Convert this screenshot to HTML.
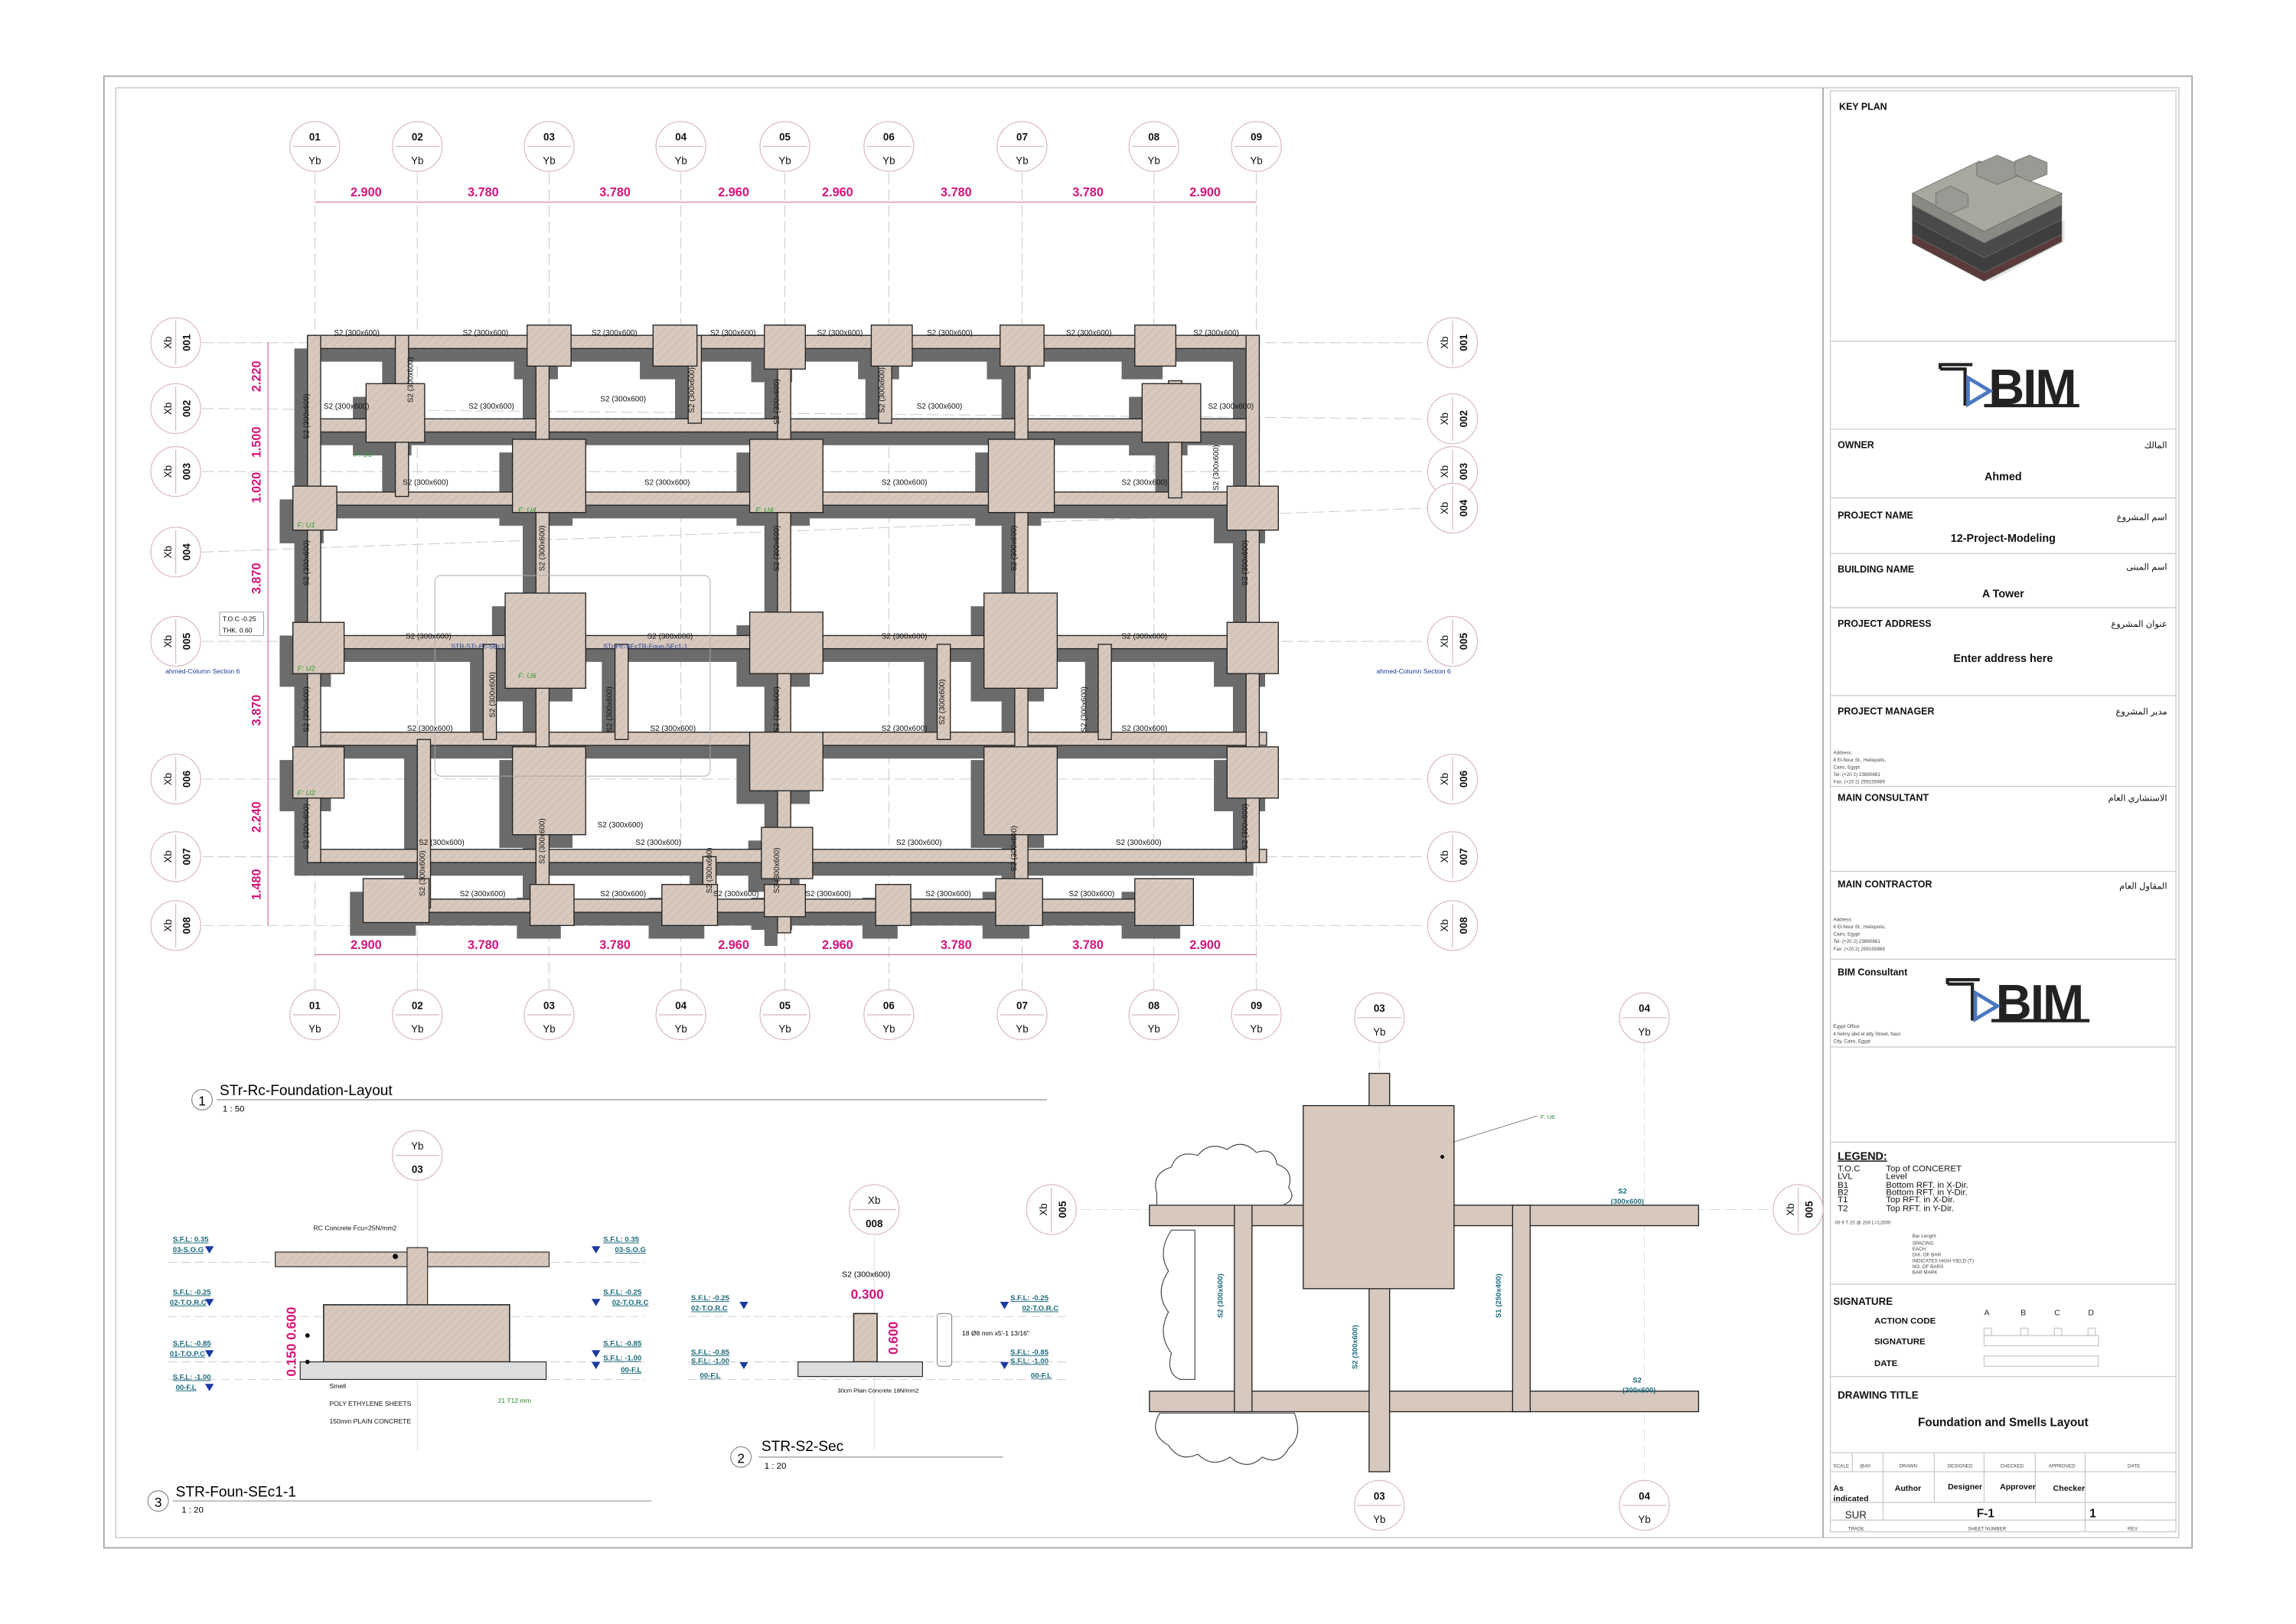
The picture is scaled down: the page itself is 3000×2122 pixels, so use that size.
<!DOCTYPE html>
<html><head><meta charset="utf-8"><style>
html,body{margin:0;padding:0;background:#fff;}
svg{display:block;}
text{font-family:"Liberation Sans","Noto Sans CJK SC",sans-serif;}
</style></head><body>
<svg width="3000" height="2122" viewBox="0 0 1568 1109" preserveAspectRatio="none" xmlns="http://www.w3.org/2000/svg">
<defs>
<pattern id="hat" width="4" height="4" patternUnits="userSpaceOnUse" patternTransform="rotate(45)"><rect width="4" height="4" fill="#d8c9be"/><line x1="0" y1="0" x2="0" y2="4" stroke="#c4b0a3" stroke-width="0.6"/></pattern>
<g id="shp">
<rect x="210" y="229" width="650" height="9"/><rect x="210" y="286" width="650" height="9"/>
<rect x="210" y="336" width="655" height="9"/><rect x="200" y="434" width="670" height="9"/>
<rect x="210" y="500" width="655" height="9"/><rect x="215" y="580" width="650" height="9"/>
<rect x="255" y="614" width="560" height="9"/>
<rect x="210" y="229" width="9" height="360"/><rect x="851" y="229" width="9" height="360"/>
<rect x="531" y="222" width="9" height="415"/><rect x="693" y="229" width="9" height="380"/>
<rect x="366" y="229" width="9" height="390"/><rect x="270" y="229" width="9" height="110"/>
<rect x="330" y="440" width="9" height="65"/><rect x="420" y="440" width="9" height="65"/>
<rect x="470" y="229" width="9" height="60"/><rect x="600" y="229" width="9" height="60"/>
<rect x="640" y="440" width="9" height="65"/><rect x="750" y="440" width="9" height="65"/>
<rect x="798" y="260" width="9" height="80"/><rect x="285" y="505" width="9" height="115"/>
<rect x="480" y="585" width="9" height="35"/>
<rect x="360" y="222" width="30" height="28"/><rect x="446" y="222" width="30" height="28"/><rect x="522" y="222" width="28" height="30"/><rect x="595" y="222" width="28" height="28"/><rect x="683" y="222" width="30" height="28"/><rect x="775" y="222" width="28" height="28"/>
<rect x="250" y="262" width="40" height="40"/><rect x="780" y="262" width="40" height="40"/>
<rect x="350" y="300" width="50" height="50"/><rect x="512" y="300" width="50" height="50"/><rect x="675" y="300" width="45" height="50"/><rect x="838" y="332" width="35" height="30"/><rect x="200" y="332" width="30" height="30"/>
<rect x="200" y="425" width="35" height="35"/><rect x="345" y="405" width="55" height="65"/><rect x="512" y="418" width="50" height="42"/><rect x="672" y="405" width="50" height="65"/><rect x="838" y="425" width="35" height="35"/>
<rect x="200" y="510" width="35" height="35"/><rect x="350" y="510" width="50" height="60"/><rect x="512" y="500" width="50" height="40"/><rect x="672" y="510" width="50" height="60"/><rect x="838" y="510" width="35" height="35"/>
<rect x="520" y="565" width="35" height="35"/><rect x="248" y="600" width="45" height="30"/><rect x="362" y="604" width="30" height="28"/><rect x="452" y="604" width="38" height="28"/><rect x="522" y="604" width="28" height="22"/><rect x="598" y="604" width="24" height="28"/><rect x="680" y="600" width="32" height="32"/><rect x="775" y="600" width="40" height="32"/>
</g>
</defs>
<rect width="1568" height="1109" fill="#fff"/>
<rect x="71" y="52" width="1426" height="1005" fill="none" stroke="#999" stroke-width="0.8"/>
<rect x="79" y="60" width="1409" height="990" fill="none" stroke="#bbb" stroke-width="0.6"/>
<line x1="1245" y1="60" x2="1245" y2="1050" stroke="#999" stroke-width="0.8"/>
<g stroke="#c8c8c8" stroke-width="0.5" stroke-dasharray="8,3">
<line x1="215" y1="118" x2="215" y2="676"/><line x1="285" y1="118" x2="285" y2="676"/><line x1="375" y1="118" x2="375" y2="676"/><line x1="465" y1="118" x2="465" y2="676"/><line x1="536" y1="118" x2="536" y2="676"/><line x1="607" y1="118" x2="607" y2="676"/><line x1="698" y1="118" x2="698" y2="676"/><line x1="788" y1="118" x2="788" y2="676"/><line x1="858" y1="118" x2="858" y2="676"/>
<line x1="138" y1="234" x2="975" y2="234"/><line x1="138" y1="279" x2="975" y2="286"/><line x1="138" y1="322" x2="975" y2="322"/><line x1="138" y1="377" x2="975" y2="347"/><line x1="138" y1="438" x2="975" y2="438"/><line x1="138" y1="532" x2="975" y2="532"/><line x1="138" y1="585" x2="975" y2="585"/><line x1="138" y1="632" x2="975" y2="632"/>
</g>
<use href="#shp" transform="translate(-9,9)" fill="#6b6b6b"/>
<use href="#shp" fill="url(#hat)" stroke="#222" stroke-width="0.7"/>
<rect x="297" y="393" width="188" height="137" rx="4" fill="none" stroke="#aaa" stroke-width="0.5"/>
<g font-size="5.2" fill="#111">
<text x="228" y="229">S2 (300x600)</text><text x="316" y="229">S2 (300x600)</text><text x="404" y="229">S2 (300x600)</text><text x="485" y="229">S2 (300x600)</text><text x="558" y="229">S2 (300x600)</text><text x="633" y="229">S2 (300x600)</text><text x="728" y="229">S2 (300x600)</text><text x="815" y="229">S2 (300x600)</text>
<text x="221" y="279">S2 (300x600)</text><text x="320" y="279">S2 (300x600)</text><text x="410" y="274">S2 (300x600)</text><text x="626" y="279">S2 (300x600)</text><text x="825" y="279">S2 (300x600)</text>
<text x="275" y="331">S2 (300x600)</text><text x="440" y="331">S2 (300x600)</text><text x="602" y="331">S2 (300x600)</text><text x="766" y="331">S2 (300x600)</text>
<text x="277" y="436">S2 (300x600)</text><text x="442" y="436">S2 (300x600)</text><text x="602" y="436">S2 (300x600)</text><text x="766" y="436">S2 (300x600)</text>
<text x="278" y="499">S2 (300x600)</text><text x="444" y="499">S2 (300x600)</text><text x="602" y="499">S2 (300x600)</text><text x="766" y="499">S2 (300x600)</text>
<text x="408" y="565">S2 (300x600)</text>
<text x="286" y="577">S2 (300x600)</text><text x="434" y="577">S2 (300x600)</text><text x="612" y="577">S2 (300x600)</text><text x="762" y="577">S2 (300x600)</text>
<text x="314" y="612">S2 (300x600)</text><text x="410" y="612">S2 (300x600)</text><text x="487" y="612">S2 (300x600)</text><text x="550" y="612">S2 (300x600)</text><text x="632" y="612">S2 (300x600)</text><text x="730" y="612">S2 (300x600)</text>
<text transform="translate(211,300) rotate(-90)">S2 (300x600)</text><text transform="translate(211,400) rotate(-90)">S2 (300x600)</text><text transform="translate(211,500) rotate(-90)">S2 (300x600)</text><text transform="translate(211,580) rotate(-90)">S2 (300x600)</text>
<text transform="translate(372,390) rotate(-90)">S2 (300x600)</text><text transform="translate(532,390) rotate(-90)">S2 (300x600)</text><text transform="translate(694,390) rotate(-90)">S2 (300x600)</text><text transform="translate(852,400) rotate(-90)">S2 (300x600)</text>
<text transform="translate(532,290) rotate(-90)">S2 (300x600)</text><text transform="translate(282,275) rotate(-90)">S2 (300x600)</text><text transform="translate(474,282) rotate(-90)">S2 (300x600)</text><text transform="translate(604,282) rotate(-90)">S2 (300x600)</text><text transform="translate(832,335) rotate(-90)">S2 (300x600)</text>
<text transform="translate(532,500) rotate(-90)">S2 (300x600)</text><text transform="translate(372,590) rotate(-90)">S2 (300x600)</text><text transform="translate(532,610) rotate(-90)">S2 (300x600)</text><text transform="translate(694,595) rotate(-90)">S2 (300x600)</text><text transform="translate(852,580) rotate(-90)">S2 (300x600)</text>
<text transform="translate(338,490) rotate(-90)">S2 (300x600)</text><text transform="translate(418,500) rotate(-90)">S2 (300x600)</text><text transform="translate(645,495) rotate(-90)">S2 (300x600)</text><text transform="translate(742,500) rotate(-90)">S2 (300x600)</text><text transform="translate(290,612) rotate(-90)">S2 (300x600)</text><text transform="translate(486,610) rotate(-90)">S2 (300x600)</text>
</g>
<g font-size="5" fill="#2a9a2a" font-style="italic"><text x="203" y="360">F: U1</text><text x="354" y="350">F: U4</text><text x="516" y="350">F: U4</text><text x="203" y="458">F: U2</text><text x="354" y="463">F: U6</text><text x="203" y="543">F: U2</text><text x="242" y="312">F: U3</text></g>
<g font-size="4.5" fill="#1a3a9a"><text x="308" y="443">STR-STr-Pc-SEc1</text><text x="412" y="443">STr-Pc-SEcTR-Foun-SEc1-1</text><text x="113" y="460">ahmed-Column Section 6</text><text x="940" y="460">ahmed-Column Section 6</text></g>
<rect x="150" y="418" width="30" height="16" fill="#fff" stroke="#888" stroke-width="0.4"/><text x="152" y="424" font-size="4.5">T.O.C  -0.25</text><text x="152" y="432" font-size="4.5">THK.    0.60</text>
<g stroke="#d04a7a" stroke-width="0.5"><line x1="215" y1="138" x2="858" y2="138"/><line x1="215" y1="652" x2="858" y2="652"/><line x1="183" y1="234" x2="183" y2="632"/></g>
<g font-size="8.5" fill="#d4147a" font-weight="bold" text-anchor="middle">
<text x="250" y="134">2.900</text><text x="330" y="134">3.780</text><text x="420" y="134">3.780</text><text x="501" y="134">2.960</text><text x="572" y="134">2.960</text><text x="653" y="134">3.780</text><text x="743" y="134">3.780</text><text x="823" y="134">2.900</text>
<text x="250" y="648">2.900</text><text x="330" y="648">3.780</text><text x="420" y="648">3.780</text><text x="501" y="648">2.960</text><text x="572" y="648">2.960</text><text x="653" y="648">3.780</text><text x="743" y="648">3.780</text><text x="823" y="648">2.900</text>
<text transform="translate(178,257) rotate(-90)">2.220</text><text transform="translate(178,302) rotate(-90)">1.500</text><text transform="translate(178,333) rotate(-90)">1.020</text><text transform="translate(178,395) rotate(-90)">3.870</text><text transform="translate(178,485) rotate(-90)">3.870</text><text transform="translate(178,558) rotate(-90)">2.240</text><text transform="translate(178,604) rotate(-90)">1.480</text>
</g>
<g font-size="7" fill="#111" text-anchor="middle" stroke-width="0.6">
<circle cx="215" cy="100" r="17" fill="#fff" stroke="#d9b5c0"/><line x1="200" y1="100" x2="230" y2="100" stroke="#d9b5c0"/><text x="215" y="96" font-weight="bold">01</text><text x="215" y="112">Yb</text>
<circle cx="285" cy="100" r="17" fill="#fff" stroke="#d9b5c0"/><line x1="270" y1="100" x2="300" y2="100" stroke="#d9b5c0"/><text x="285" y="96" font-weight="bold">02</text><text x="285" y="112">Yb</text>
<circle cx="375" cy="100" r="17" fill="#fff" stroke="#d9b5c0"/><line x1="360" y1="100" x2="390" y2="100" stroke="#d9b5c0"/><text x="375" y="96" font-weight="bold">03</text><text x="375" y="112">Yb</text>
<circle cx="465" cy="100" r="17" fill="#fff" stroke="#d9b5c0"/><line x1="450" y1="100" x2="480" y2="100" stroke="#d9b5c0"/><text x="465" y="96" font-weight="bold">04</text><text x="465" y="112">Yb</text>
<circle cx="536" cy="100" r="17" fill="#fff" stroke="#d9b5c0"/><line x1="521" y1="100" x2="551" y2="100" stroke="#d9b5c0"/><text x="536" y="96" font-weight="bold">05</text><text x="536" y="112">Yb</text>
<circle cx="607" cy="100" r="17" fill="#fff" stroke="#d9b5c0"/><line x1="592" y1="100" x2="622" y2="100" stroke="#d9b5c0"/><text x="607" y="96" font-weight="bold">06</text><text x="607" y="112">Yb</text>
<circle cx="698" cy="100" r="17" fill="#fff" stroke="#d9b5c0"/><line x1="683" y1="100" x2="713" y2="100" stroke="#d9b5c0"/><text x="698" y="96" font-weight="bold">07</text><text x="698" y="112">Yb</text>
<circle cx="788" cy="100" r="17" fill="#fff" stroke="#d9b5c0"/><line x1="773" y1="100" x2="803" y2="100" stroke="#d9b5c0"/><text x="788" y="96" font-weight="bold">08</text><text x="788" y="112">Yb</text>
<circle cx="858" cy="100" r="17" fill="#fff" stroke="#d9b5c0"/><line x1="843" y1="100" x2="873" y2="100" stroke="#d9b5c0"/><text x="858" y="96" font-weight="bold">09</text><text x="858" y="112">Yb</text>
<circle cx="215" cy="693" r="17" fill="#fff" stroke="#d9b5c0"/><line x1="200" y1="693" x2="230" y2="693" stroke="#d9b5c0"/><text x="215" y="689" font-weight="bold">01</text><text x="215" y="705">Yb</text>
<circle cx="285" cy="693" r="17" fill="#fff" stroke="#d9b5c0"/><line x1="270" y1="693" x2="300" y2="693" stroke="#d9b5c0"/><text x="285" y="689" font-weight="bold">02</text><text x="285" y="705">Yb</text>
<circle cx="375" cy="693" r="17" fill="#fff" stroke="#d9b5c0"/><line x1="360" y1="693" x2="390" y2="693" stroke="#d9b5c0"/><text x="375" y="689" font-weight="bold">03</text><text x="375" y="705">Yb</text>
<circle cx="465" cy="693" r="17" fill="#fff" stroke="#d9b5c0"/><line x1="450" y1="693" x2="480" y2="693" stroke="#d9b5c0"/><text x="465" y="689" font-weight="bold">04</text><text x="465" y="705">Yb</text>
<circle cx="536" cy="693" r="17" fill="#fff" stroke="#d9b5c0"/><line x1="521" y1="693" x2="551" y2="693" stroke="#d9b5c0"/><text x="536" y="689" font-weight="bold">05</text><text x="536" y="705">Yb</text>
<circle cx="607" cy="693" r="17" fill="#fff" stroke="#d9b5c0"/><line x1="592" y1="693" x2="622" y2="693" stroke="#d9b5c0"/><text x="607" y="689" font-weight="bold">06</text><text x="607" y="705">Yb</text>
<circle cx="698" cy="693" r="17" fill="#fff" stroke="#d9b5c0"/><line x1="683" y1="693" x2="713" y2="693" stroke="#d9b5c0"/><text x="698" y="689" font-weight="bold">07</text><text x="698" y="705">Yb</text>
<circle cx="788" cy="693" r="17" fill="#fff" stroke="#d9b5c0"/><line x1="773" y1="693" x2="803" y2="693" stroke="#d9b5c0"/><text x="788" y="689" font-weight="bold">08</text><text x="788" y="705">Yb</text>
<circle cx="858" cy="693" r="17" fill="#fff" stroke="#d9b5c0"/><line x1="843" y1="693" x2="873" y2="693" stroke="#d9b5c0"/><text x="858" y="689" font-weight="bold">09</text><text x="858" y="705">Yb</text>
</g>
<g font-size="7" fill="#111" text-anchor="middle" stroke="#d9b5c0" stroke-width="0.6">
<g transform="translate(120,234)"><circle r="17" fill="#fff"/><line x1="0" y1="-15" x2="0" y2="15"/><text transform="translate(-5,0) rotate(-90)" y="2" stroke="none">Xb</text><text transform="translate(10,0) rotate(-90)" stroke="none" font-weight="bold">001</text></g>
<g transform="translate(120,279)"><circle r="17" fill="#fff"/><line x1="0" y1="-15" x2="0" y2="15"/><text transform="translate(-5,0) rotate(-90)" y="2" stroke="none">Xb</text><text transform="translate(10,0) rotate(-90)" stroke="none" font-weight="bold">002</text></g>
<g transform="translate(120,322)"><circle r="17" fill="#fff"/><line x1="0" y1="-15" x2="0" y2="15"/><text transform="translate(-5,0) rotate(-90)" y="2" stroke="none">Xb</text><text transform="translate(10,0) rotate(-90)" stroke="none" font-weight="bold">003</text></g>
<g transform="translate(120,377)"><circle r="17" fill="#fff"/><line x1="0" y1="-15" x2="0" y2="15"/><text transform="translate(-5,0) rotate(-90)" y="2" stroke="none">Xb</text><text transform="translate(10,0) rotate(-90)" stroke="none" font-weight="bold">004</text></g>
<g transform="translate(120,438)"><circle r="17" fill="#fff"/><line x1="0" y1="-15" x2="0" y2="15"/><text transform="translate(-5,0) rotate(-90)" y="2" stroke="none">Xb</text><text transform="translate(10,0) rotate(-90)" stroke="none" font-weight="bold">005</text></g>
<g transform="translate(120,532)"><circle r="17" fill="#fff"/><line x1="0" y1="-15" x2="0" y2="15"/><text transform="translate(-5,0) rotate(-90)" y="2" stroke="none">Xb</text><text transform="translate(10,0) rotate(-90)" stroke="none" font-weight="bold">006</text></g>
<g transform="translate(120,585)"><circle r="17" fill="#fff"/><line x1="0" y1="-15" x2="0" y2="15"/><text transform="translate(-5,0) rotate(-90)" y="2" stroke="none">Xb</text><text transform="translate(10,0) rotate(-90)" stroke="none" font-weight="bold">007</text></g>
<g transform="translate(120,632)"><circle r="17" fill="#fff"/><line x1="0" y1="-15" x2="0" y2="15"/><text transform="translate(-5,0) rotate(-90)" y="2" stroke="none">Xb</text><text transform="translate(10,0) rotate(-90)" stroke="none" font-weight="bold">008</text></g>
<g transform="translate(992,234)"><circle r="17" fill="#fff"/><line x1="0" y1="-15" x2="0" y2="15"/><text transform="translate(-5,0) rotate(-90)" y="2" stroke="none">Xb</text><text transform="translate(10,0) rotate(-90)" stroke="none" font-weight="bold">001</text></g>
<g transform="translate(992,286)"><circle r="17" fill="#fff"/><line x1="0" y1="-15" x2="0" y2="15"/><text transform="translate(-5,0) rotate(-90)" y="2" stroke="none">Xb</text><text transform="translate(10,0) rotate(-90)" stroke="none" font-weight="bold">002</text></g>
<g transform="translate(992,322)"><circle r="17" fill="#fff"/><line x1="0" y1="-15" x2="0" y2="15"/><text transform="translate(-5,0) rotate(-90)" y="2" stroke="none">Xb</text><text transform="translate(10,0) rotate(-90)" stroke="none" font-weight="bold">003</text></g>
<g transform="translate(992,347)"><circle r="17" fill="#fff"/><line x1="0" y1="-15" x2="0" y2="15"/><text transform="translate(-5,0) rotate(-90)" y="2" stroke="none">Xb</text><text transform="translate(10,0) rotate(-90)" stroke="none" font-weight="bold">004</text></g>
<g transform="translate(992,438)"><circle r="17" fill="#fff"/><line x1="0" y1="-15" x2="0" y2="15"/><text transform="translate(-5,0) rotate(-90)" y="2" stroke="none">Xb</text><text transform="translate(10,0) rotate(-90)" stroke="none" font-weight="bold">005</text></g>
<g transform="translate(992,532)"><circle r="17" fill="#fff"/><line x1="0" y1="-15" x2="0" y2="15"/><text transform="translate(-5,0) rotate(-90)" y="2" stroke="none">Xb</text><text transform="translate(10,0) rotate(-90)" stroke="none" font-weight="bold">006</text></g>
<g transform="translate(992,585)"><circle r="17" fill="#fff"/><line x1="0" y1="-15" x2="0" y2="15"/><text transform="translate(-5,0) rotate(-90)" y="2" stroke="none">Xb</text><text transform="translate(10,0) rotate(-90)" stroke="none" font-weight="bold">007</text></g>
<g transform="translate(992,632)"><circle r="17" fill="#fff"/><line x1="0" y1="-15" x2="0" y2="15"/><text transform="translate(-5,0) rotate(-90)" y="2" stroke="none">Xb</text><text transform="translate(10,0) rotate(-90)" stroke="none" font-weight="bold">008</text></g>
<g transform="translate(718,826)"><circle r="17" fill="#fff"/><line x1="0" y1="-15" x2="0" y2="15"/><text transform="translate(-5,0) rotate(-90)" y="2" stroke="none">Xb</text><text transform="translate(10,0) rotate(-90)" stroke="none" font-weight="bold">005</text></g>
<g transform="translate(1228,826)"><circle r="17" fill="#fff"/><line x1="0" y1="-15" x2="0" y2="15"/><text transform="translate(-5,0) rotate(-90)" y="2" stroke="none">Xb</text><text transform="translate(10,0) rotate(-90)" stroke="none" font-weight="bold">005</text></g>
<g transform="translate(285,789)"><circle r="17" fill="#fff"/><line x1="-15" y1="0" x2="15" y2="0"/><text y="-4" stroke="none">Yb</text><text y="12" stroke="none" font-weight="bold">03</text></g>
<g transform="translate(597,826)"><circle r="17" fill="#fff"/><line x1="-15" y1="0" x2="15" y2="0"/><text y="-4" stroke="none">Xb</text><text y="12" stroke="none" font-weight="bold">008</text></g>
<g transform="translate(942,695)"><circle r="17" fill="#fff"/><line x1="-15" y1="0" x2="15" y2="0"/><text y="-4" stroke="none" font-weight="bold">03</text><text y="12" stroke="none">Yb</text></g>
<g transform="translate(1123,695)"><circle r="17" fill="#fff"/><line x1="-15" y1="0" x2="15" y2="0"/><text y="-4" stroke="none" font-weight="bold">04</text><text y="12" stroke="none">Yb</text></g>
<g transform="translate(942,1028)"><circle r="17" fill="#fff"/><line x1="-15" y1="0" x2="15" y2="0"/><text y="-4" stroke="none" font-weight="bold">03</text><text y="12" stroke="none">Yb</text></g>
<g transform="translate(1123,1028)"><circle r="17" fill="#fff"/><line x1="-15" y1="0" x2="15" y2="0"/><text y="-4" stroke="none" font-weight="bold">04</text><text y="12" stroke="none">Yb</text></g>
</g>
<circle cx="138" cy="751" r="7" fill="#fff" stroke="#888" stroke-width="0.6"/><text x="138" y="755" font-size="9" text-anchor="middle">1</text>
<text x="150" y="748" font-size="10">STr-Rc-Foundation-Layout</text><line x1="148" y1="751" x2="715" y2="751" stroke="#bbb" stroke-width="1"/><text x="152" y="759" font-size="6">1 : 50</text>
<g stroke="#ccc" stroke-width="0.5" stroke-dasharray="6,3"><line x1="115" y1="862" x2="440" y2="862"/><line x1="115" y1="899" x2="440" y2="899"/><line x1="115" y1="930" x2="440" y2="930"/><line x1="115" y1="942" x2="440" y2="942"/></g>
<line x1="285" y1="800" x2="285" y2="990" stroke="#ddd" stroke-width="0.5"/>
<rect x="188" y="855" width="187" height="10" fill="url(#hat)" stroke="#222" stroke-width="0.6"/>
<rect x="278" y="852" width="14" height="47" fill="url(#hat)" stroke="#222" stroke-width="0.6"/>
<rect x="221" y="891" width="127" height="39" fill="url(#hat)" stroke="#222" stroke-width="0.8"/>
<rect x="205" y="930" width="168" height="12" fill="#ddd" stroke="#222" stroke-width="0.6"/>
<circle cx="270" cy="858" r="1.8" fill="#000"/><circle cx="210" cy="912" r="1.5" fill="#000"/><circle cx="210" cy="930" r="1.5" fill="#000"/>
<g font-size="9" fill="#d4147a" font-weight="bold"><text transform="translate(202,915) rotate(-90)">0.600</text><text transform="translate(202,940) rotate(-90)">0.150</text></g>
<g font-size="4.5" fill="#111"><text x="214" y="840">RC Concrete Fcu=25N/mm2</text><text x="225" y="948">Smell</text><text x="225" y="960">POLY ETHYLENE SHEETS</text><text x="225" y="972">150mm PLAIN CONCRETE</text><text x="340" y="958" fill="#2a8a2a">21 T12 mm</text></g>
<g font-size="5" fill="#1a6a7a" font-weight="bold" text-decoration="underline">
<text x="118" y="848">S.F.L:  0.35</text><text x="118" y="855">03-S.O.G</text><text x="118" y="884">S.F.L:  -0.25</text><text x="116" y="891">02-T.O.R.C</text><text x="118" y="919">S.F.L:  -0.85</text><text x="116" y="926">01-T.O.P.C</text><text x="118" y="942">S.F.L:  -1.00</text><text x="120" y="949">00-F.L</text>
<text x="412" y="848">S.F.L:  0.35</text><text x="420" y="855">03-S.O.G</text><text x="412" y="884">S.F.L:  -0.25</text><text x="418" y="891">02-T.O.R.C</text><text x="412" y="919">S.F.L:  -0.85</text><text x="412" y="929">S.F.L:  -1.00</text><text x="424" y="937">00-F.L</text>
<text x="472" y="888">S.F.L:  -0.25</text><text x="472" y="895">02-T.O.R.C</text><text x="472" y="925">S.F.L:  -0.85</text><text x="472" y="931">S.F.L:  -1.00</text><text x="478" y="941">00-F.L</text>
<text x="690" y="888">S.F.L:  -0.25</text><text x="698" y="895">02-T.O.R.C</text><text x="690" y="925">S.F.L:  -0.85</text><text x="690" y="931">S.F.L:  -1.00</text><text x="704" y="941">00-F.L</text>
</g>
<g fill="#1a3aa0"><path d="M140,851h6l-3,5z"/><path d="M140,887h6l-3,5z"/><path d="M140,922h6l-3,5z"/><path d="M140,945h6l-3,5z"/><path d="M404,851h6l-3,5z"/><path d="M404,887h6l-3,5z"/><path d="M404,922h6l-3,5z"/><path d="M404,930h6l-3,5z"/><path d="M505,889h6l-3,5z"/><path d="M505,930h6l-3,5z"/><path d="M683,889h6l-3,5z"/><path d="M683,930h6l-3,5z"/></g>
<circle cx="108" cy="1025" r="7" fill="#fff" stroke="#888" stroke-width="0.6"/><text x="108" y="1029" font-size="9" text-anchor="middle">3</text>
<text x="120" y="1022" font-size="10">STR-Foun-SEc1-1</text><line x1="118" y1="1025" x2="445" y2="1025" stroke="#bbb" stroke-width="1"/><text x="124" y="1033" font-size="6">1 : 20</text>
<line x1="597" y1="845" x2="597" y2="990" stroke="#ddd" stroke-width="0.5"/>
<g stroke="#ccc" stroke-width="0.5" stroke-dasharray="6,3"><line x1="470" y1="899" x2="730" y2="899"/><line x1="470" y1="930" x2="730" y2="930"/><line x1="470" y1="942" x2="730" y2="942"/></g>
<text x="575" y="872" font-size="5.5">S2 (300x600)</text>
<text x="581" y="887" font-size="9" fill="#d4147a" font-weight="bold">0.300</text>
<text transform="translate(613,925) rotate(-90)" font-size="9" fill="#d4147a" font-weight="bold">0.600</text>
<rect x="583" y="897" width="16" height="33" fill="url(#hat)" stroke="#222" stroke-width="0.8"/>
<rect x="545" y="930" width="85" height="10" fill="#ddd" stroke="#222" stroke-width="0.6"/>
<rect x="640" y="897" width="10" height="36" rx="2" fill="none" stroke="#777" stroke-width="0.5"/>
<text x="657" y="912" font-size="4.5">18 Ø8 mm x5'-1 13/16"</text><text x="572" y="951" font-size="4">30cm Plain Concrete 18N/mm2</text>
<circle cx="506" cy="995" r="7" fill="#fff" stroke="#888" stroke-width="0.6"/><text x="506" y="999" font-size="9" text-anchor="middle">2</text>
<text x="520" y="991" font-size="10">STR-S2-Sec</text><line x1="518" y1="995" x2="685" y2="995" stroke="#bbb" stroke-width="1"/><text x="522" y="1003" font-size="6">1 : 20</text>
<g stroke="#ddd" stroke-width="0.5" stroke-dasharray="8,3"><line x1="942" y1="712" x2="942" y2="1010"/><line x1="1123" y1="712" x2="1123" y2="1010"/><line x1="738" y1="826" x2="1210" y2="826"/></g>
<g fill="#d8c9be" stroke="#222" stroke-width="0.7">
<rect x="785" y="823" width="375" height="14"/><rect x="785" y="950" width="375" height="14"/>
<rect x="935" y="733" width="14" height="272"/><rect x="843" y="823" width="12" height="141"/><rect x="1033" y="823" width="12" height="141"/>
<rect x="890" y="755" width="103" height="125"/>
</g>
<g fill="none" stroke="#444" stroke-width="0.6"><path d="M790,815 q-4,-14 10,-18 q4,-12 18,-8 q8,-10 20,-4 q10,-8 20,2 q12,-4 14,8 q12,4 8,16 q6,8 -4,12 l-86,0 z"/><path d="M800,840 q-10,15 -2,28 q-10,15 0,28 q-8,15 2,28 q-4,14 6,18 l10,0 l0,-102 z"/><path d="M792,965 q-8,14 6,22 q8,12 20,6 q10,10 22,2 q12,10 22,0 q12,6 18,-6 q10,-8 4,-24 z"/></g>
<g font-size="5" fill="#1a6a7a" font-weight="bold"><text x="1105" y="815">S2</text><text x="1100" y="822">(300x600)</text><text x="1115" y="944">S2</text><text x="1108" y="951">(300x600)</text>
<text transform="translate(927,935) rotate(-90)">S2 (300x600)</text><text transform="translate(1025,900) rotate(-90)">S1 (250x400)</text><text transform="translate(835,900) rotate(-90)">S2 (300x600)</text></g>
<text x="1052" y="764" font-size="4" fill="#2a8a2a">F: U6</text><line x1="992" y1="780" x2="1050" y2="762" stroke="#666" stroke-width="0.4"/><circle cx="985" cy="790" r="1.3" fill="#000"/>
<g stroke="#ccc" stroke-width="0.7" fill="none">
<rect x="1250" y="62" width="236" height="984"/>
<line x1="1250" y1="233" x2="1486" y2="233"/><line x1="1250" y1="293" x2="1486" y2="293"/><line x1="1250" y1="340" x2="1486" y2="340"/><line x1="1250" y1="378" x2="1486" y2="378"/><line x1="1250" y1="415" x2="1486" y2="415"/><line x1="1250" y1="475" x2="1486" y2="475"/><line x1="1250" y1="537" x2="1486" y2="537"/><line x1="1250" y1="595" x2="1486" y2="595"/><line x1="1250" y1="655" x2="1486" y2="655"/><line x1="1250" y1="715" x2="1486" y2="715"/><line x1="1250" y1="780" x2="1486" y2="780"/><line x1="1250" y1="877" x2="1486" y2="877"/><line x1="1250" y1="940" x2="1486" y2="940"/><line x1="1250" y1="992" x2="1486" y2="992"/><line x1="1250" y1="1005" x2="1486" y2="1005"/><line x1="1250" y1="1026" x2="1486" y2="1026"/><line x1="1250" y1="1038" x2="1486" y2="1038"/>
<line x1="1265" y1="992" x2="1265" y2="1005"/><line x1="1286" y1="992" x2="1286" y2="1038"/><line x1="1321" y1="992" x2="1321" y2="1026"/><line x1="1355" y1="992" x2="1355" y2="1026"/><line x1="1390" y1="992" x2="1390" y2="1026"/><line x1="1424" y1="992" x2="1424" y2="1046"/>
<rect x="1355" y="907" width="5" height="5"/><rect x="1380" y="907" width="5" height="5"/><rect x="1403" y="907" width="5" height="5"/><rect x="1426" y="907" width="5" height="5"/><rect x="1355" y="912" width="78" height="7"/><rect x="1355" y="926" width="78" height="7"/>
</g>
<!-- key plan 3d building -->
<g stroke="#666" stroke-width="0.4">
<path d="M1308,148 L1360,176 L1410,150 L1410,165 L1360,192 L1308,164 Z" fill="#e6e6e6" stroke="none"/>
<path d="M1306,160 L1355,186 L1408,160 L1408,165 L1355,192 L1306,166 Z" fill="#5a3a3a"/>
<path d="M1306,150 L1355,176 L1408,150 L1408,160 L1355,186 L1306,160 Z" fill="#3e3e3e"/>
<path d="M1306,140 L1355,166 L1408,140 L1408,150 L1355,176 L1306,150 Z" fill="#4a4a4a"/>
<path d="M1306,132 L1355,158 L1408,132 L1408,140 L1355,166 L1306,140 Z" fill="#8a8a84"/>
<path d="M1306,132 L1352,110 L1408,132 L1355,158 Z" fill="#a8a8a0"/>
<path d="M1322,132 l10,-5 l12,6 l0,8 l-12,5 l-10,-5z" fill="#9a9a94"/><path d="M1350,112 l14,-6 l14,6 l0,8 l-14,6 l-14,-6z" fill="#9a9a94"/><path d="M1376,110 l10,-4 l12,5 l0,8 l-12,5 l-10,-5z" fill="#9a9a94"/>
</g>
<g font-weight="bold" fill="#111">
<text x="1256" y="75" font-size="6.5">KEY PLAN</text>
<text x="1255" y="306" font-size="6.5">OWNER</text><text x="1368" y="328" font-size="7.5" text-anchor="middle">Ahmed</text>
<text x="1255" y="354" font-size="6.5">PROJECT NAME</text><text x="1368" y="370" font-size="7.5" text-anchor="middle">12-Project-Modeling</text>
<text x="1255" y="391" font-size="6.5">BUILDING NAME</text><text x="1368" y="408" font-size="7.5" text-anchor="middle">A Tower</text>
<text x="1255" y="428" font-size="6.5">PROJECT ADDRESS</text><text x="1368" y="452" font-size="7.5" text-anchor="middle">Enter address here</text>
<text x="1255" y="488" font-size="6.5">PROJECT MANAGER</text>
<text x="1255" y="547" font-size="6.5">MAIN CONSULTANT</text>
<text x="1255" y="606" font-size="6.5">MAIN CONTRACTOR</text>
<text x="1255" y="666" font-size="6.5">BIM Consultant</text>
<text x="1252" y="891" font-size="7">SIGNATURE</text><text x="1280" y="904" font-size="6">ACTION CODE</text><text x="1280" y="918" font-size="6">SIGNATURE</text><text x="1280" y="933" font-size="6">DATE</text>
<text x="1255" y="955" font-size="7">DRAWING TITLE</text><text x="1368" y="974" font-size="8" text-anchor="middle">Foundation and Smells Layout</text>
<text x="1252" y="1018" font-size="5.5">As</text><text x="1252" y="1025" font-size="5.5">indicated</text><text x="1303" y="1018" font-size="5.5" text-anchor="middle">Author</text><text x="1342" y="1017" font-size="5.5" text-anchor="middle">Designer</text><text x="1378" y="1017" font-size="5.5" text-anchor="middle">Approver</text><text x="1413" y="1018" font-size="5.5" text-anchor="middle">Checker</text>
<text x="1356" y="1036" font-size="8" text-anchor="middle">F-1</text><text x="1427" y="1036" font-size="8">1</text>
<text x="1255" y="792" font-size="7.5" text-decoration="underline">LEGEND:</text>
</g>
<g font-size="5.5" fill="#222"><text x="1355" y="898">A</text><text x="1380" y="898">B</text><text x="1403" y="898">C</text><text x="1426" y="898">D</text><text x="1260" y="1037" font-size="7">SUR</text></g>
<g font-size="6" fill="#111"><text x="1255" y="800">T.O.C</text><text x="1288" y="800">Top of CONCERET</text><text x="1255" y="805">LVL</text><text x="1288" y="805">Level</text><text x="1255" y="811">B1</text><text x="1288" y="811">Bottom RFT. in X-Dir.</text><text x="1255" y="816">B2</text><text x="1288" y="816">Bottom RFT. in Y-Dir.</text><text x="1255" y="821">T1</text><text x="1288" y="821">Top RFT. in X-Dir.</text><text x="1255" y="827">T2</text><text x="1288" y="827">Top RFT. in Y-Dir.</text></g>
<g font-size="3.3" fill="#444"><text x="1253" y="836">00  9  T  20  @  200  L=12000</text><text x="1306" y="845">Bar Lenght</text><text x="1306" y="850">SPACING</text><text x="1306" y="854">EACH</text><text x="1306" y="858">DIA. OF BAR</text><text x="1306" y="862">INDICATES HIGH YIELD (T)</text><text x="1306" y="866">NO. OF BARS</text><text x="1306" y="870">BAR MARK</text>
<text x="1252" y="1002">SCALE</text><text x="1270" y="1002">@A0</text><text x="1297" y="1002">DRAWN</text><text x="1330" y="1002">DESIGNED</text><text x="1366" y="1002">CHECKED</text><text x="1399" y="1002">APPROVED</text><text x="1453" y="1002">DATE</text><text x="1262" y="1045">TRADE</text><text x="1344" y="1045">SHEET NUMBER</text><text x="1453" y="1045">REV</text>
<text x="1252" y="515">Address:</text><text x="1252" y="520">8 El-Nour St., Heliopolis,</text><text x="1252" y="525">Cairo, Egypt</text><text x="1252" y="530">Tel: (+20 2) 23890861</text><text x="1252" y="535">Fax: (+20 2) 259155969</text>
<text x="1252" y="629">Address:</text><text x="1252" y="634">8 El-Nour St., Heliopolis,</text><text x="1252" y="639">Cairo, Egypt</text><text x="1252" y="644">Tel: (+20 2) 23890861</text><text x="1252" y="649">Fax: (+20 2) 259155969</text>
<text x="1252" y="702">Egypt Office</text><text x="1252" y="707">4 helmy abd el atty Street, Nasr</text><text x="1252" y="712">City, Cairo, Egypt</text></g>
<g font-size="6" fill="#111" text-anchor="end"><text x="1480" y="306">المالك</text><text x="1480" y="355">اسم المشروع</text><text x="1480" y="389">اسم المبنى</text><text x="1480" y="428">عنوان المشروع</text><text x="1480" y="488">مدير المشروع</text><text x="1480" y="547">الاستشاري العام</text><text x="1480" y="607">المقاول العام</text></g>
<g transform="translate(1325,246)">
<path d="M0,6 H17 V31 M0,6 V3 H22 M30,31 H95" fill="none" stroke="#222" stroke-width="2.2"/>
<text x="33" y="30" font-size="34" font-weight="bold" fill="#222" letter-spacing="-1">BIM</text>
<path d="M19,12 L19,30 L34,21 Z" fill="none" stroke="#4a78c0" stroke-width="2.5"/>
</g>
<g transform="translate(1330,666)">
<path d="M0,6 H17 V31 M0,6 V3 H22 M30,31 H97" fill="none" stroke="#222" stroke-width="2.2"/>
<text x="33" y="30" font-size="34" font-weight="bold" fill="#222" letter-spacing="-1">BIM</text>
<path d="M19,12 L19,30 L34,21 Z" fill="none" stroke="#4a78c0" stroke-width="2.5"/>
</g>
</svg>
</body></html>
